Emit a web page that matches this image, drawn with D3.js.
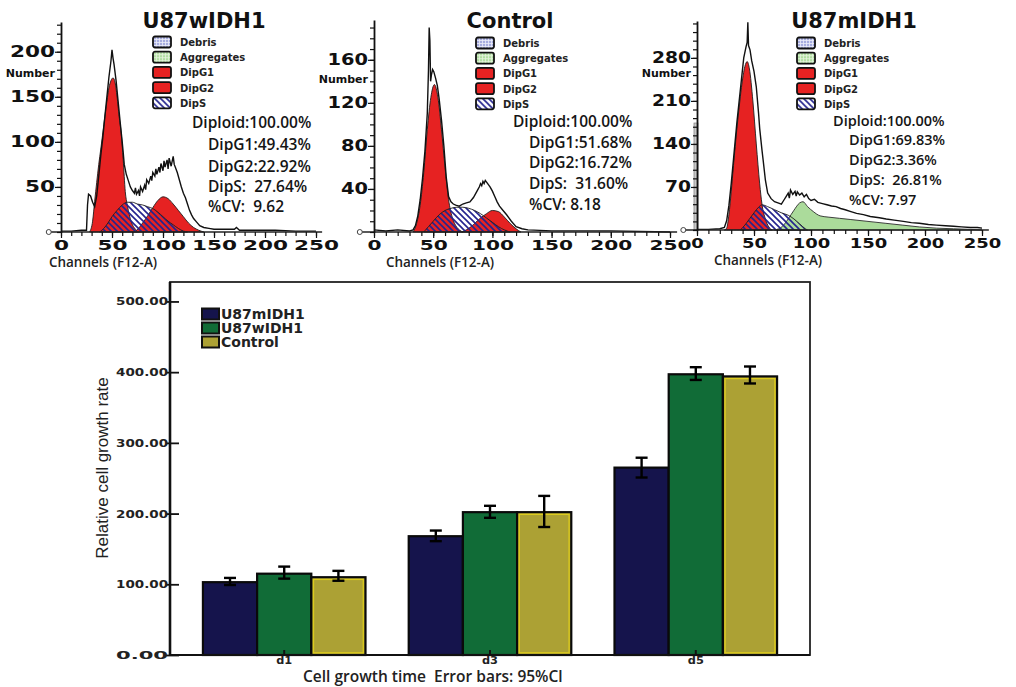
<!DOCTYPE html>
<html>
<head>
<meta charset="utf-8">
<script src="https://cdn.jsdelivr.net/npm/d3@7"></script>
<style>
  body { margin: 0; background: #fff; }
  svg text { white-space: pre; }
</style>
</head>
<body>
<svg id="fig" width="1016" height="687"></svg>
<script>
// flow histograms, [channel, number]
var wTotal = [[0,1],[10,1],[20,2],[25,2],[26,30],[27,42],[29,40],[31,33],[33,28],[35,40],[37,62],[39,85],[41,105],[43,128],[45,150],[47,172],[49,190],[50,202],[51,193],[52,186],[54,168],[56,145],[58,122],[60,100],[61,88],[62,75],[64,64],[66,57],[68,50],[70,46],[72,43],[73,49],[74,42],[76,46],[77,40],[78,50],[80,45],[82,52],[83,47],[84,58],[86,54],[88,62],[89,57],[90,66],[92,62],[93,70],[94,64],[96,72],[97,66],[98,76],[100,68],[101,79],[102,72],[104,80],[105,70],[106,82],[108,73],[110,84],[111,75],[112,72],[114,66],[116,58],[118,50],[120,43],[122,38],[124,31],[126,24],[128,19],[130,15],[133,11],[136,7],[140,5],[145,4],[150,3],[160,3],[170,3],[172,5],[175,2],[190,2],[210,2],[230,1],[250,1]];
var wG1 = [[28,0],[31,12],[33,34],[35,55],[37,75],[39,92],[41,110],[43,128],[45,145],[47,160],[49,168],[51,171],[53,166],[55,150],[57,128],[59,110],[61,80],[63,45],[65,30],[67,19],[69,11],[71,6],[73,3],[76,0]];
var wS = [[38,0],[42,4],[46,10],[50,17],[55,24],[60,30],[65,33],[70,33],[75,31],[80,30],[85,28],[90,26],[95,22],[100,17],[105,12],[110,8],[115,4],[120,1],[124,0]];
var wG2 = [[72,0],[76,4],[80,10],[85,18],[90,27],[95,35],[100,39],[105,37],[110,31],[115,24],[120,17],[125,10],[130,5],[135,2],[140,0]];

var cTotal = [[0,2],[10,1],[20,2],[30,1],[33,2],[35,6],[37,15],[39,30],[41,50],[43,75],[45,110],[46,150],[46.6,190],[47.2,178],[47.8,140],[48.5,146],[49.5,151],[50.5,149],[52,143],[53.5,136],[55,124],[57,104],[59,80],[61,51],[63,33],[65,28],[67,26],[69,25],[72,24],[75,26],[78,27],[81,28],[84,32],[87,38],[89,42],[90,45],[91,43],[92,47],[93,45],[94,48],[96,45],[98,42],[100,38],[102,33],[104,28],[106,24],[109,20],[112,16],[116,10],[120,5],[125,3],[130,2],[150,1],[200,1],[250,0]];
var cG1 = [[33,0],[36,8],[39,25],[42,55],[45,95],[48,125],[51,137],[54,125],[57,95],[60,60],[63,30],[66,14],[69,6],[72,2],[75,0]];
var cS = [[42,0],[46,5],[50,10],[55,16],[60,20],[65,22],[70,23],[75,23],[80,22],[85,20],[90,17],[95,13],[100,9],[105,5],[110,2],[115,0]];
var cG2 = [[74,0],[78,2],[82,5],[86,9],[90,13],[95,17],[100,20],[105,19],[110,14],[115,8],[120,3],[124,0]];

var mTotal = [[0,1],[10,1],[20,2],[24,4],[26,15],[28,40],[30,75],[32,115],[35,175],[37,210],[39,245],[41,280],[43,298],[44,305],[44.6,338],[45.2,300],[46.5,293],[48,275],[50,258],[52,233],[54,190],[55,165],[57,130],[58,114],[60,81],[62,60],[65,51],[68,46],[71,44],[74,42],[76,48],[78,54],[80,60],[81,52],[82,65],[84,58],[86,63],[87,55],[88,62],[90,57],[92,60],[94,54],[96,58],[98,51],[100,48],[103,50],[106,45],[110,43],[114,41],[118,39],[122,38],[126,35],[130,33],[135,30],[140,27],[146,25],[152,22],[160,20],[166,18],[173,16],[181,14],[188,12],[195,11],[203,9],[210,8],[218,7],[225,6],[232,5],[240,4],[246,4],[250,3]];
var mG1 = [[24,0],[26,3],[28,25],[30,62],[32,105],[35,165],[37,200],[39,232],[42,266],[44,274],[46,262],[49,210],[52,140],[55,75],[57,42],[60,18],[63,5],[66,0]];
var mS = [[38,0],[42,8],[46,18],[50,28],[54,37],[57,41],[62,38],[68,33],[74,28],[80,24],[85,18],[90,10],[95,2],[97,0]];
var mG2 = [[70,0],[75,3],[80,5],[85,6],[90,4],[95,2],[100,0]];
var mAgg = [[68,0],[75,6],[80,18],[85,32],[90,44],[93,46],[97,38],[102,30],[108,23],[115,21],[125,19],[135,17],[150,14],[165,11],[180,8],[195,5],[210,3],[225,2],[240,1],[250,0]];
var mGate = [0, 174];

var legendNames = ['Debris', 'Aggregates', 'DipG1', 'DipG2', 'DipS'];
var wStats = ['Diploid:100.00%', 'DipG1:49.43%', 'DipG2:22.92%', 'DipS:  27.64%', '%CV:  9.62'];
var cStats = ['Diploid:100.00%', 'DipG1:51.68%', 'DipG2:16.72%', 'DipS:  31.60%', '%CV: 8.18'];
var mStats = ['Diploid:100.00%', 'DipG1:69.83%', 'DipG2:3.36%', 'DipS:  26.81%', '%CV: 7.97'];
var channelTicks = [0, 50, 100, 150, 200, 250];

// growth bar chart
var days = ['d1', 'd3', 'd5'];
var groups = ['U87mIDH1', 'U87wIDH1', 'Control'];
var meanM = [103, 168, 265], lowM = [99, 161, 251], highM = [109, 176, 279];
var meanW = [115, 202, 397], lowW = [108, 194, 389], highW = [125, 211, 407];
var meanC = [110, 202, 394], lowC = [105, 181, 384], highC = [119, 225, 408];
var rateTicks = [0, 100, 200, 300, 400, 500];

var svg = d3.select('#fig');
var defs = svg.append('defs');

var hatch = defs.append('pattern').attr('id', 'hatch')
  .attr('patternUnits', 'userSpaceOnUse').attr('width', 6).attr('height', 6);
hatch.append('path').attr('d', 'M-1,-1L7,7M-1,5L1,7M5,-1L7,1')
  .attr('stroke', '#24248e').attr('stroke-width', 1.6);

var grid = function(id, bg, fg) {
  var p = defs.append('pattern').attr('id', id)
    .attr('patternUnits', 'userSpaceOnUse').attr('width', 3).attr('height', 3);
  p.append('rect').attr('width', 3).attr('height', 3).attr('fill', bg);
  p.append('path').attr('d', 'M0,0.5H3M0.5,0V3').attr('stroke', fg).attr('stroke-width', 0.8);
};
grid('debrisGrid', '#a7addf', '#eceefa');
grid('aggGrid', '#b2dea2', '#e6f4de');
var swatchFill = ['url(#debrisGrid)', 'url(#aggGrid)', '#e62222', '#e62222', 'url(#hatch)'];

var panels = [
  {title: 'U87wIDH1', tx: 204, x0: 61, x1: 316, y0: 232, y1: 22, yMax: 233, yLab: [50, 100, 150, 200], minor: 10, digitW: 15, xDigitW: 15,
   total: wTotal, g1: wG1, g2: wG2, s: wS, stats: wStats, sx: [192, 208], sy: [128, 150, 172, 192, 212], sf: 15.5,
   lx: 153, ly: 42, numY: 77, chX: 103},
  {title: 'Control', tx: 510, x0: 374, x1: 670, y0: 232, y1: 20, yMax: 197, yLab: [40, 80, 120, 160], minor: 10, digitW: 13.5, xDigitW: 14,
   total: cTotal, g1: cG1, g2: cG2, s: cS, stats: cStats, sx: [513, 529], sy: [127, 148, 168, 189, 210], sf: 15.5,
   lx: 476, ly: 43, numY: 83, chX: 440},
  {title: 'U87mIDH1', tx: 854, x0: 697, x1: 982, y0: 230, y1: 21, yMax: 340, yLab: [70, 140, 210, 280], minor: 14, digitW: 13, xDigitW: 12.5,
   total: mTotal, g1: mG1, g2: mG2, s: mS, agg: mAgg, gate: mGate, stats: mStats, sx: [833, 849], sy: [126, 145, 165, 185, 205], sf: 14.5,
   lx: 797, ly: 43, numY: 77, chX: 768}
];

var drawHist = function(p) {
  var g = svg.append('g');
  var x = d3.scaleLinear().domain([0, 250]).range([p.x0, p.x1]);
  var y = d3.scaleLinear().domain([0, p.yMax]).range([p.y0, p.y1]);
  var area = d3.area().curve(d3.curveMonotoneX)
    .x(function(d) { return x(d[0]); }).y0(y(0)).y1(function(d) { return y(d[1]); });
  var line = d3.line()
    .x(function(d) { return x(d[0]); }).y(function(d) { return y(d[1]); });

  [p.g1, p.g2].forEach(function(s) {
    g.append('path').datum(s).attr('d', area)
      .attr('fill', '#e62222').attr('stroke', '#1e1e1e').attr('stroke-width', 0.9);
  });
  if (p.agg) {
    g.append('path').datum(p.agg).attr('d', area)
      .attr('fill', '#abdb9b').attr('stroke', '#2d2d2d').attr('stroke-width', 0.9);
  }
  g.append('path').datum(p.s).attr('d', area)
    .attr('fill', 'url(#hatch)').attr('stroke', '#1e1e1e').attr('stroke-width', 0.9);
  if (p.gate) {
    g.append('rect').attr('x', x(p.gate[0]) - 3).attr('y', y(p.gate[1]))
      .attr('width', 4).attr('height', y(0) - y(p.gate[1]))
      .attr('fill', '#c9c9c9').attr('stroke', '#888').attr('stroke-width', 0.8);
  }
  g.append('path').datum(p.total).attr('d', line)
    .attr('fill', 'none').attr('stroke', '#111').attr('stroke-width', 1.4);

  // baseline with the little circle at its left end
  g.append('line').attr('x1', x(-11)).attr('x2', x(256)).attr('y1', y(0)).attr('y2', y(0))
    .attr('stroke', '#222').attr('stroke-width', 1.6);
  g.append('circle').attr('cx', x(-12)).attr('cy', y(0)).attr('r', 2.5)
    .attr('fill', '#fff').attr('stroke', '#444').attr('stroke-width', 1);

  // y axis
  g.append('g').attr('transform', 'translate(' + p.x0 + ',0)')
    .call(d3.axisLeft(y).tickValues(d3.range(0, p.yMax, p.minor)).tickSize(4).tickSizeOuter(0).tickFormat(''))
    .call(function(a) { a.select('.domain').attr('stroke', '#111').attr('stroke-width', 1.8); });
  g.append('g').attr('transform', 'translate(' + p.x0 + ',0)')
    .call(d3.axisLeft(y).tickValues(p.yLab).tickSize(6).tickPadding(0))
    .call(function(a) {
      a.select('.domain').remove();
      a.selectAll('text').attr('font-family', 'DejaVu Sans').attr('font-weight', 'bold')
        .attr('font-size', 15).attr('fill', '#111')
        .attr('textLength', function(d) { return String(d).length * p.digitW; })
        .attr('lengthAdjust', 'spacingAndGlyphs');
    });

  // x axis
  g.append('g').attr('transform', 'translate(0,' + p.y0 + ')')
    .call(d3.axisBottom(x).tickValues(d3.range(0, 251, 10)).tickSize(4).tickFormat(''))
    .call(function(a) { a.select('.domain').remove(); });
  g.append('g').attr('transform', 'translate(0,' + p.y0 + ')')
    .call(d3.axisBottom(x).tickValues(channelTicks).tickSize(6).tickPadding(2))
    .call(function(a) {
      a.select('.domain').remove();
      a.selectAll('text').attr('font-family', 'DejaVu Sans').attr('font-weight', 'bold')
        .attr('font-size', 14).attr('fill', '#111')
        .attr('textLength', function(d) { return String(d).length * p.xDigitW; })
        .attr('lengthAdjust', 'spacingAndGlyphs');
    });
  g.selectAll('.tick line').attr('stroke', '#111').attr('stroke-width', 1.2);

  g.append('text').attr('x', p.chX).attr('y', p.y0 + 35).attr('text-anchor', 'middle')
    .attr('font-family', 'Open Sans').attr('font-weight', 600).attr('font-size', 13.5).attr('fill', '#222')
    .text('Channels (F12-A)');
  g.append('text').attr('x', p.x0 - 6).attr('y', p.numY).attr('text-anchor', 'end')
    .attr('font-family', 'DejaVu Sans').attr('font-weight', 'bold').attr('font-size', 11).attr('fill', '#111')
    .text('Number');

  g.append('text').attr('x', p.tx).attr('y', 28).attr('text-anchor', 'middle')
    .attr('font-family', 'DejaVu Sans').attr('font-weight', 'bold').attr('font-size', 21).attr('fill', '#111')
    .text(p.title);

  // legend
  var leg = g.selectAll('.leg').data(legendNames).enter().append('g')
    .attr('transform', function(d, i) { return 'translate(' + p.lx + ',' + (p.ly + i * 15.2) + ')'; });
  leg.append('rect').attr('x', 0).attr('y', -5.5).attr('width', 18).attr('height', 11).attr('rx', 2)
    .attr('fill', function(d, i) { return swatchFill[i]; })
    .attr('stroke', '#111').attr('stroke-width', 1.8);
  leg.append('text').attr('x', 27).attr('y', 4)
    .attr('font-family', 'DejaVu Sans').attr('font-weight', 'bold').attr('font-size', 10).attr('fill', '#222')
    .text(function(d) { return d; });

  // fit results
  g.selectAll('.stat').data(p.stats).enter().append('text')
    .attr('x', function(d, i) { return i == 0 ? p.sx[0] : p.sx[1]; })
    .attr('y', function(d, i) { return p.sy[i]; })
    .attr('font-family', 'Open Sans').attr('font-weight', 600).attr('font-size', p.sf).attr('fill', '#151515')
    .text(function(d) { return d; });
};

panels.forEach(drawHist);

// ---- bar chart ----
var bx0 = 170, bx1 = 810, by0 = 655, by1 = 282;
var barColors = ['#15144c', '#116c37', '#aca134'];
var means = [meanM, meanW, meanC], lows = [lowM, lowW, lowC], highs = [highM, highW, highC];

var rows = [];
days.forEach(function(day, i) {
  groups.forEach(function(grp, j) {
    rows.push({day: day, group: grp, k: j, mean: means[j][i], lo: lows[j][i], hi: highs[j][i]});
  });
});

var xDay = d3.scaleBand().domain(days).range([bx0, bx1]).paddingInner(0.21).paddingOuter(0.16);
var xGrp = d3.scaleBand().domain(groups).range([0, xDay.bandwidth()]);
var yRate = d3.scaleLinear().domain([0, 527.5]).range([by0, by1]);

var chart = svg.append('g');

chart.append('rect').attr('x', bx0).attr('y', by1).attr('width', bx1 - bx0).attr('height', by0 - by1)
  .attr('fill', 'none').attr('stroke', '#222').attr('stroke-width', 1.8);

var bars = chart.selectAll('.bar').data(rows).enter().append('g')
  .attr('transform', function(d) { return 'translate(' + (xDay(d.day) + xGrp(d.group)) + ',0)'; });
bars.append('rect').attr('x', 0).attr('y', function(d) { return yRate(d.mean); })
  .attr('width', xGrp.bandwidth()).attr('height', function(d) { return by0 - yRate(d.mean); })
  .attr('fill', function(d) { return barColors[d.k]; })
  .attr('stroke', '#0a0a0a').attr('stroke-width', 2.2);
bars.filter(function(d) { return d.k == 2; }).append('rect')
  .attr('x', 2.2).attr('y', function(d) { return yRate(d.mean) + 2.2; })
  .attr('width', xGrp.bandwidth() - 4.4).attr('height', function(d) { return by0 - yRate(d.mean) - 4.4; })
  .attr('fill', 'none').attr('stroke', '#dccb1e').attr('stroke-width', 1.3);

var err = bars.append('g').attr('stroke', '#000').attr('stroke-width', 2.4);
err.append('line').attr('x1', xGrp.bandwidth() / 2).attr('x2', xGrp.bandwidth() / 2)
  .attr('y1', function(d) { return yRate(d.hi); }).attr('y2', function(d) { return yRate(d.lo); });
err.append('line').attr('x1', xGrp.bandwidth() / 2 - 6).attr('x2', xGrp.bandwidth() / 2 + 6)
  .attr('y1', function(d) { return yRate(d.hi); }).attr('y2', function(d) { return yRate(d.hi); });
err.append('line').attr('x1', xGrp.bandwidth() / 2 - 6).attr('x2', xGrp.bandwidth() / 2 + 6)
  .attr('y1', function(d) { return yRate(d.lo); }).attr('y2', function(d) { return yRate(d.lo); });

chart.append('g').attr('transform', 'translate(' + bx0 + ',0)')
  .call(d3.axisLeft(yRate).tickValues(rateTicks).tickFormat(d3.format('.2f')).tickSize(-9).tickPadding(2))
  .call(function(a) {
    a.select('.domain').remove();
    a.selectAll('.tick line').attr('x1', -4).attr('stroke', '#111').attr('stroke-width', 1.8);
    a.selectAll('text').attr('font-family', 'DejaVu Sans').attr('font-weight', 'bold')
      .attr('font-size', 11).attr('fill', '#222')
      .attr('textLength', 52).attr('lengthAdjust', 'spacingAndGlyphs');
  });
chart.append('line').attr('x1', bx0).attr('x2', bx0).attr('y1', by1).attr('y2', by0)
  .attr('stroke', '#111').attr('stroke-width', 2.6);
chart.append('line').attr('x1', bx0).attr('x2', bx1).attr('y1', by0).attr('y2', by0)
  .attr('stroke', '#111').attr('stroke-width', 2.2);

chart.append('g').attr('transform', 'translate(0,' + by0 + ')')
  .call(d3.axisBottom(xDay).tickSize(-5).tickPadding(2))
  .call(function(a) {
    a.select('.domain').remove();
    a.selectAll('.tick line').attr('stroke', '#111').attr('stroke-width', 2);
    a.selectAll('text').attr('font-family', 'DejaVu Sans').attr('font-weight', 'bold')
      .attr('font-size', 10).attr('fill', '#222')
      .attr('textLength', 16).attr('lengthAdjust', 'spacingAndGlyphs');
  });

var bleg = chart.selectAll('.bleg').data(groups).enter().append('g')
  .attr('transform', function(d, i) { return 'translate(202,' + (314 + i * 14) + ')'; });
bleg.append('rect').attr('x', 0).attr('y', -5.5).attr('width', 17).attr('height', 11)
  .attr('fill', function(d, i) { return barColors[i]; })
  .attr('stroke', '#111').attr('stroke-width', 2);
bleg.append('text').attr('x', 19).attr('y', 5)
  .attr('font-family', 'DejaVu Sans').attr('font-weight', 'bold').attr('font-size', 14).attr('fill', '#222')
  .text(function(d) { return d; });

chart.append('text').attr('transform', 'translate(102,468) rotate(-90)').attr('text-anchor', 'middle')
  .attr('dy', '0.35em').attr('font-family', 'Liberation Sans').attr('font-size', 17).attr('fill', '#222')
  .text('Relative cell growth rate');

chart.append('text').attr('x', 303).attr('y', 682)
  .attr('font-family', 'Open Sans').attr('font-weight', 600).attr('font-size', 15.5).attr('fill', '#222')
  .text('Cell growth time  Error bars: 95%Cl');
</script>
</body>
</html>
